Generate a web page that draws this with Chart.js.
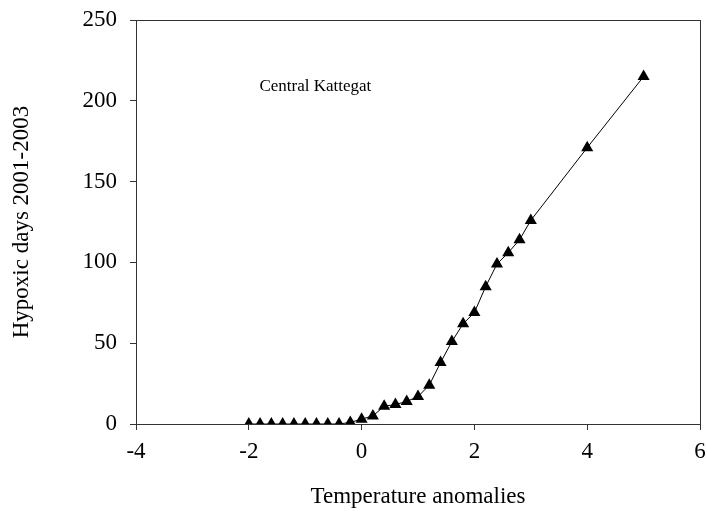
<!DOCTYPE html>
<html>
<head>
<meta charset="utf-8">
<script src="https://cdn.jsdelivr.net/npm/chart.js@4/dist/chart.umd.min.js"></script>
<style>
  html, body { margin: 0; padding: 0; background: #fff; }
  #wrap { width: 707px; height: 511px; }
</style>
</head>
<body>
<div id="wrap"><canvas id="chart" width="707" height="511"></canvas></div>
<script>
// temperature anomalies (x) and hypoxic days (y)
var anomalies = [-2, -1.8, -1.6, -1.4, -1.2, -1, -0.8, -0.6, -0.4, -0.2, 0, 0.2, 0.4, 0.6, 0.8, 1, 1.2, 1.4, 1.6, 1.8, 2, 2.2, 2.4, 2.6, 2.8, 3, 4, 5];
var hypoxicDays = [0, 0, 0, 0, 0, 0, 0, 0, 0, 1, 3, 5, 11, 12, 14, 17, 24, 38, 51, 62, 69, 85, 99, 106, 114, 126, 171, 215];
var xTicks = [-4, -2, 0, 2, 4, 6];
var yTicks = [0, 50, 100, 150, 200, 250];
var stationName = "Central Kattegat";

var serif = "'Liberation Serif', 'Times New Roman', serif";

var points = anomalies.map(function (x, i) {
  return { x: x, y: hypoxicDays[i] };
});

// box round the plot + station label
var frame = {
  id: 'frame',
  afterDraw: function (chart) {
    var ctx = chart.ctx, a = chart.chartArea;
    ctx.save();
    ctx.strokeStyle = '#333';
    ctx.lineWidth = 1;
    ctx.strokeRect(a.left + 0.5, a.top + 0.5, a.right - a.left, a.bottom - a.top);
    ctx.fillStyle = '#000';
    ctx.font = "17px " + serif;
    ctx.textAlign = 'center';
    ctx.textBaseline = 'middle';
    ctx.fillText(stationName, chart.scales.x.getPixelForValue(-0.82), chart.scales.y.getPixelForValue(209));
    ctx.restore();
  }
};

new Chart(document.getElementById('chart'), {
  type: 'scatter',
  data: {
    datasets: [{
      data: points,
      showLine: true,
      borderColor: '#000',
      borderWidth: 1,
      pointStyle: 'triangle',
      pointRadius: 7,
      pointBackgroundColor: '#000',
      pointBorderColor: '#000',
      pointBorderWidth: 0
    }]
  },
  options: {
    responsive: false,
    animation: false,
    layout: { padding: { top: 20, right: 0, left: 0, bottom: 0 } },
    plugins: { legend: { display: false }, tooltip: { enabled: false } },
    scales: {
      x: {
        type: 'linear',
        min: -4,
        max: 6,
        afterBuildTicks: function (s) { s.ticks = xTicks.map(function (v) { return { value: v }; }); },
        afterFit: function (s) { s.height = 87; s.paddingLeft = 0; s.paddingRight = 2; },
        grid: { drawOnChartArea: false, drawTicks: true, tickLength: 6, color: '#333' },
        border: { color: '#333' },
        ticks: { color: '#000', font: { family: serif, size: 23 }, padding: 8 },
        title: { display: true, text: 'Temperature anomalies', color: '#000', font: { family: serif, size: 23 }, padding: { top: 0, bottom: 0 } }
      },
      y: {
        type: 'linear',
        min: 0,
        max: 250,
        afterBuildTicks: function (s) { s.ticks = yTicks.map(function (v) { return { value: v }; }); },
        afterFit: function (s) { s.width = 136; s.paddingTop = 0; s.paddingBottom = 0; },
        grid: { drawOnChartArea: false, drawTicks: true, tickLength: 6, color: '#333' },
        border: { color: '#333' },
        ticks: { color: '#000', font: { family: serif, size: 23 }, padding: 13 },
        title: { display: true, text: 'Hypoxic days 2001-2003', color: '#000', font: { family: serif, size: 23 }, padding: { top: 8, bottom: 0 } }
      }
    }
  },
  plugins: [frame]
});
</script>
</body>
</html>
